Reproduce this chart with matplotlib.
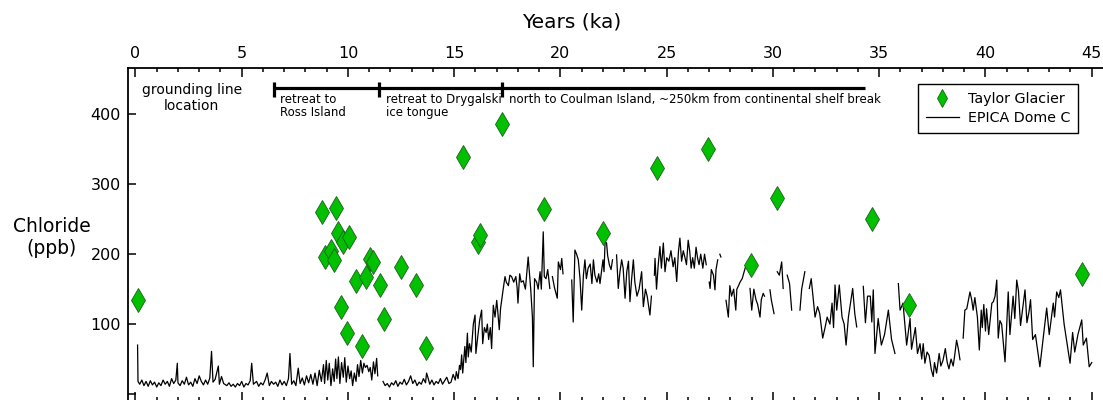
import numpy as np
import matplotlib
matplotlib.use("Agg")
import matplotlib.pyplot as plt
from matplotlib.ticker import MultipleLocator

nan = np.nan

# Taylor Glacier chloride samples (age ka, ppb)
tg_age = [0.1, 8.8, 8.93, 9.18, 9.34, 9.44, 9.53, 9.66, 9.78, 9.94, 10.06, 10.36,
          10.64, 10.83, 11.04, 11.19, 11.5, 11.69, 12.49, 13.2, 13.67, 15.43, 16.13,
          16.21, 17.26, 19.22, 22.0, 24.56, 26.96, 28.95, 30.17, 34.64, 36.41, 44.53]
tg_cl = [135, 260, 196, 204, 192, 266, 231, 125, 218, 87, 225, 161,
         68, 168, 193, 189, 156, 107, 182, 156, 66, 339, 218,
         227, 387, 264, 231, 324, 350, 185, 281, 250, 127, 171]

# EPICA Dome C chloride record (age ka, ppb); nan marks gaps in the record
edc_age = [
    0.1, 0.12, 0.2, 0.3, 0.4, 0.5, 0.6, 0.7, 0.8, 0.9, 1.0, 1.1, 1.2, 1.3, 1.4, 1.5,
    1.6, 1.7, 1.8, 1.9, 1.97, 2.0, 2.1, 2.2, 2.3, 2.4, 2.5, 2.6, 2.7, 2.8, 2.9, 3.0,
    3.1, 3.2, 3.3, 3.4, 3.5, 3.58, 3.65, 3.75, 3.9, 3.95, 4.05, 4.15, 4.3, 4.4, 4.5,
    4.6, 4.7, 4.8, 4.9, 5.0, 5.1, 5.2, 5.3, 5.4, 5.47, 5.55, 5.7, 5.8, 5.9, 6.0, 6.1,
    6.2, 6.3, 6.4, 6.5, 6.6, 6.7, 6.8, 6.9, 7.0, 7.1, 7.2, 7.27, 7.35, 7.45, 7.55,
    7.66, 7.75, 7.85, 7.95, 8.05, 8.15, 8.25, 8.35, 8.45, 8.55, 8.65, 8.75, 8.85,
    8.9, 8.98, 9.05, 9.12, 9.2, 9.28, 9.35, 9.42, 9.48, 9.55, 9.62, 9.7, 9.78, 9.85,
    9.92, 10.0, 10.08, 10.15, 10.22, 10.3, 10.38, 10.45, 10.52, 10.6, 10.68, 10.75,
    10.82, 10.9, 10.98, 11.05, 11.12, 11.2, 11.27, 11.35, 11.4, 11.42, 11.43, 11.5,
    11.65, 11.75, 11.85, 11.95, 12.05, 12.15, 12.25, 12.35, 12.45, 12.55, 12.65,
    12.75, 12.85, 12.95, 13.05, 13.15, 13.25, 13.35, 13.45, 13.55, 13.65, 13.7, 13.75,
    13.85, 13.95, 14.05, 14.15, 14.25, 14.35, 14.45, 14.55, 14.65, 14.75, 14.85,
    14.95, 15.05, 15.1, 15.18, 15.25, 15.3, 15.35, 15.4, 15.5, 15.55, 15.62, 15.66,
    15.72, 15.8, 15.9, 15.98, 16.02, 16.1, 16.2, 16.29, 16.34, 16.42, 16.5, 16.56,
    16.62, 16.7, 16.76, 16.84, 16.92, 17.0, 17.05, 17.12, 17.18, 17.3, 17.39, 17.45,
    17.55, 17.62, 17.7, 17.8, 17.9, 17.96, 18.0, 18.08, 18.15, 18.25, 18.35, 18.48,
    18.55, 18.6, 18.68, 18.72, 18.78, 18.88, 18.95, 19.04, 19.1, 19.19, 19.24, 19.32,
    19.4, 19.5, 19.55, 19.62, 19.72, 19.85, 19.9, 20.0, 20.06, 20.12, 20.3, 20.53,
    20.6, 20.68, 20.76, 20.84, 20.92, 21.0, 21.08, 21.15, 21.22, 21.3, 21.4, 21.48,
    21.55, 21.62, 21.72, 21.8, 21.86, 22.0, 22.05, 22.1, 22.17, 22.22, 22.3, 22.38,
    22.45, 22.55, 22.64, 22.72, 22.8, 22.88, 22.95, 23.04, 23.12, 23.2, 23.27, 23.35,
    23.43, 23.5, 23.6, 23.7, 23.82, 23.9, 24.0, 24.08, 24.15, 24.21, 24.28, 24.35,
    24.42, 24.45, 24.52, 24.6, 24.68, 24.75, 24.84, 24.92, 25.0, 25.1, 25.2, 25.3,
    25.38, 25.47, 25.55, 25.62, 25.7, 25.78, 25.86, 25.93, 26.01, 26.08, 26.15, 26.22,
    26.3, 26.38, 26.45, 26.52, 26.6, 26.7, 26.78, 26.86, 26.93, 27.0, 27.04, 27.1,
    27.2, 27.27, 27.32, 27.4, 27.45, 27.5, 27.55, 27.65, 27.79, 27.9, 27.97, 28.05,
    28.15, 28.25, 28.3, 28.38, 28.45, 28.55, 28.71, 28.8, 28.92, 29.0, 29.1, 29.2,
    29.28, 29.39, 29.45, 29.54, 29.6, 29.7, 29.86, 29.92, 30.05, 30.12, 30.2, 30.3,
    30.41, 30.48, 30.58, 30.67, 30.78, 30.88, 31.0, 31.27, 31.35, 31.5, 31.6, 31.71,
    31.8, 31.88, 31.98, 32.1, 32.2, 32.34, 32.45, 32.55, 32.68, 32.78, 32.85, 32.92,
    33.0, 33.12, 33.25, 33.35, 33.44, 33.55, 33.65, 33.75, 33.85, 33.94, 34.1, 34.25,
    34.35, 34.45, 34.58, 34.65, 34.72, 34.8, 34.95, 35.1, 35.25, 35.43, 35.58, 35.74,
    35.82, 35.9, 35.98, 36.12, 36.29, 36.45, 36.52, 36.7, 36.8, 36.92, 37.0, 37.07,
    37.15, 37.25, 37.35, 37.45, 37.54, 37.6, 37.7, 37.82, 37.9, 38.0, 38.11, 38.2,
    38.28, 38.38, 38.48, 38.55, 38.64, 38.72, 38.8, 38.88, 38.95, 39.03, 39.12, 39.27,
    39.35, 39.42, 39.5, 39.62, 39.71, 39.8, 39.85, 39.92, 40.0, 40.05, 40.15, 40.3,
    40.37, 40.45, 40.53, 40.6, 40.68, 40.76, 40.92, 41.07, 41.15, 41.3, 41.38, 41.47,
    41.55, 41.65, 41.86, 41.95, 42.05, 42.12, 42.22, 42.35, 42.56, 42.68, 42.88, 43.0,
    43.19, 43.25, 43.35, 43.45, 43.53, 43.7, 43.98, 44.1, 44.2, 44.35, 44.53, 44.6,
    44.75, 44.88, 45.0,
]
edc_cl = [
    70, 18, 14, 20, 12, 18, 11, 19, 13, 17, 10, 16, 12, 20, 14, 18,
    11, 22, 15, 20, 44, 16, 12, 19, 14, 24, 13, 17, 11, 22, 15, 26,
    18, 13, 20, 14, 23, 61, 17, 21, 40, 14, 25, 15, 12, 16, 11,
    14, 10, 15, 12, 18, 10, 15, 13, 19, 44, 14, 18, 11, 16, 13, 20,
    30, 12, 18, 14, 17, 11, 20, 13, 18, 12, 22, 58, 14, 19, 12,
    37, 15, 23, 13, 26, 16, 28, 14, 30, 12, 34, 18, 42,
    15, 48, 20, 44, 12, 36, 18, 50, 22, 53, 15, 45, 24, 52,
    17, 40, 22, 33, 12, 30, 18, 42, 25, 48, 30, 44,
    38, 41, 32, 38, 20, 46, 29, 51, 26, nan, 13, nan,
    18, 12, 15, 10, 16, 13, 19, 11, 17, 14, 21,
    13, 18, 26, 15, 20, 12, 17, 14, 22, 16, 30, 25,
    14, 20, 13, 18, 15, 22, 14, 19, 24, 15, 17,
    28, 20, 32, 22, 41, 35, 56, 30, 68, 45, 87, 53,
    72, 60, 100, 113, 58, 80, 106, 120, 72, 95, 88, 100,
    78, 95, 65, 127, 110, 134, 118, 92, 122, 149, 168, 160,
    155, 170, 168, 160, 168, 152, 130, 172, 160, 162, 150, 196,
    168, 150, 110, 39, 165, 160, 150, 175, 150, 232, 168, 165,
    178, 151, nan, 168, 152, 137, 189, 178, 194, 172, nan, 163,
    103, 206, 200, 192, 165, 120, 170, 192, 165, 180, 186, 158,
    192, 170, 160, 172, 158, 192, 175, 218, 216, 198, 185, 178,
    192, nan, 199, 151, 175, 192, 180, 137, 175, 190, 132, 165,
    192, 160, 140, 150, 175, 125, 150, 140, 125, 113, 140, nan,
    170, 194, 150, 185, 211, 180, 216, 175, 195, 190, 205, 182,
    195, 161, 203, 223, 190, 205, 195, 185, 220, 205, 180, 195,
    180, 210, 195, 185, 200, 180, 200, 185, nan, 160, 151, 178,
    170, 149, 178, 192, nan, 200, 196, nan, 134, 110, 155, 140,
    150, 120, 150, 155, 160, 165, 182, nan, 151, 120, 150, 135,
    128, 110, 135, 144, 140, nan, 149, 135, 115, nan, 175, 170,
    189, 151, nan, 170, 158, 120, nan, 120, 150, 175, nan, 151,
    165, 140, 110, 125, 115, 80, 95, 110, 100, 130, 95, 156,
    120, 156, 110, 100, 70, 110, 130, 151, 115, 96, nan, 154,
    102, 140, 140, 103, 149, 58, 108, 70, 85, 120, 78, 58,
    nan, 158, 120, 130, 70, 108, 64, 95, 58, 72, 50, 72,
    44, 60, 55, 35, 25, 45, 30, 58, 40, 48, 65, 45,
    36, 50, 40, 55, 77, 65, 49, nan, 80, 120, 122, 146,
    135, 120, 138, 110, 63, 120, 95, 128, 90, 122, 85, 130,
    132, 140, 163, 80, 105, 100, 46, 146, 85, 140, 108, 163,
    148, 98, 149, 102, 118, 135, 78, 85, 39, 70, 123, 85,
    130, 110, 146, 138, 149, 100, 44, 88, 60, 85, 106, 70,
    80, 39, 45,
]

# grounding line history: segment edges (ka) and labels
gl_edges = [6.52, 11.47, 17.26, 34.33]
gl_labels = ["retreat to\nRoss Island",
             "retreat to Drygalski\nice tongue",
             "north to Coulman Island, ~250km from continental shelf break"]

fig = plt.figure(figsize=(11.03, 4.0), dpi=100)
ax = fig.add_axes([0.116, -0.0025, 0.884, 0.8325])

line, = ax.plot(edc_age, edc_cl, color="black", lw=0.9, zorder=2)
pts, = ax.plot(tg_age, tg_cl, linestyle="none", marker="d", ms=12.5,
               markerfacecolor="#00c000", markeredgecolor="#1f5f1f",
               markeredgewidth=0.6, zorder=3)

ax.set_xlim(-0.353, 45.53)
ax.set_ylim(-10, 466.4)

# x axis: labelled on top, ticks inward on top and bottom
ax.xaxis.set_major_locator(MultipleLocator(5))
ax.xaxis.set_minor_locator(MultipleLocator(1))
ax.tick_params(axis="x", which="both", direction="in", top=True, bottom=True,
               labeltop=True, labelbottom=False, width=1.1)
ax.tick_params(axis="x", which="major", length=6.5, pad=5, labelsize=11.5)
ax.tick_params(axis="x", which="minor", length=3.2)
fig.text(0.5186, 0.945, "Years (ka)", fontsize=14.5, ha="center", va="center")

ax.set_yticks([0, 100, 200, 300, 400])
ax.set_yticklabels(["", "100", "200", "300", "400"])
ax.tick_params(axis="y", direction="in", length=6, width=1.1, pad=5, labelsize=11.5)

ax.spines["right"].set_visible(False)
for s in ("left", "top", "bottom"):
    ax.spines[s].set_linewidth(1.3)

fig.text(0.047, 0.405, "Chloride\n(ppb)", fontsize=13.5, ha="center", va="center")

# grounding line location bar
ybar = 437.5
ax.plot([gl_edges[0], gl_edges[-1]], [ybar, ybar], color="black", lw=2.3,
        solid_capstyle="butt", zorder=4)
for e in gl_edges[:-1]:
    ax.plot([e, e], [424.5, 447], color="black", lw=2.3, solid_capstyle="butt", zorder=4)
ax.text(2.65, 423.5, "grounding line\nlocation", fontsize=10, ha="center", va="center")
for e, lab in zip(gl_edges[:-1], gl_labels):
    ax.text(e + 0.3, 430, lab, fontsize=8.5, ha="left", va="top", linespacing=1.0)

leg = ax.legend([pts, line], ["Taylor Glacier", "EPICA Dome C"],
                loc="upper left", bbox_to_anchor=(0.810, 0.952), fontsize=10.3,
                frameon=True, fancybox=False, edgecolor="black", framealpha=1,
                handlelength=2.3, handletextpad=0.63, labelspacing=0.35,
                borderpad=0.55, borderaxespad=0, numpoints=1)
leg.get_frame().set_linewidth(1.0)
leg.legend_handles[0].set_markersize(9)

fig.savefig("out.png", dpi=100)
